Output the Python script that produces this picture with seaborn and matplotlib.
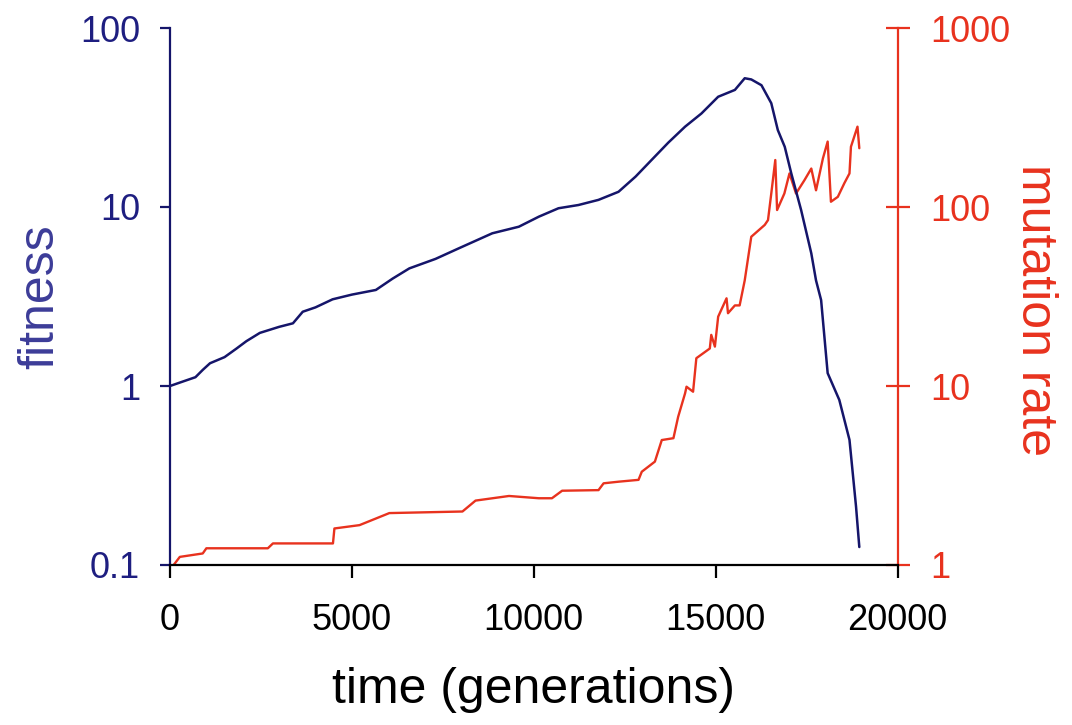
import matplotlib
matplotlib.use("Agg")
import matplotlib.pyplot as plt
import seaborn as sns
import pandas as pd
from matplotlib.ticker import FixedLocator, FixedFormatter, NullLocator

# ---- data ----
fit_time = [0, 300, 700, 900, 1100, 1500, 1830, 2100, 2470, 3000, 3380, 3650, 4000,
            4470, 5000, 5660, 6120, 6580, 7300, 7950, 8860, 9590, 10140, 10680, 11230,
            11780, 12330, 12800, 13240, 13700, 14160, 14610, 15070, 15530, 15800, 15980,
            16260, 16530, 16710, 16900, 17080, 17350, 17630, 17760, 17900, 18080, 18400,
            18680, 18860, 18950]
fitness = [1.00, 1.05, 1.12, 1.23, 1.34, 1.45, 1.62, 1.78, 1.98, 2.14, 2.24, 2.60, 2.75,
           3.05, 3.24, 3.44, 3.98, 4.54, 5.13, 5.89, 7.13, 7.76, 8.83, 9.84, 10.26,
           10.96, 12.16, 14.79, 18.32, 22.9, 28.1, 33.3, 41.3, 45.1, 52.4, 51.6,
           47.9, 38.0, 26.9, 21.7, 15.4, 9.62, 5.51, 3.89, 3.02, 1.18, 0.836,
           0.50, 0.212, 0.126]

mut_time = [100, 270, 900, 1000, 2690, 2830, 4480, 4520, 5210, 6030, 8040, 8400, 9320,
            10140, 10500, 10780, 11780, 11920, 12330, 12880, 12970, 13330, 13520, 13840,
            13970, 14160, 14200, 14380, 14470, 14840, 14880, 14980, 15070, 15300, 15340,
            15530, 15660, 15800, 15980, 16350, 16440, 16530, 16640, 16690, 16890, 17030,
            17210, 17440, 17630, 17760, 17950, 18080, 18170, 18360, 18540, 18680, 18720,
            18900, 18950]
mutation_rate = [1.0, 1.11, 1.16, 1.24, 1.24, 1.32, 1.32, 1.60, 1.67, 1.95, 1.99, 2.29, 2.43,
                 2.36, 2.36, 2.60, 2.62, 2.86, 2.92, 2.99, 3.32, 3.78, 4.99, 5.11,
                 6.73, 9.10, 9.91, 9.29, 14.3, 16.2, 19.3, 16.6, 24.4, 30.9, 25.5,
                 28.2, 28.2, 38.9, 68.2, 79.4, 84.5, 119, 183, 96.2, 119, 154,
                 119, 141, 164, 124, 187, 232, 107, 114, 136, 154, 217,
                 281, 213]

x_ticks = [0, 5000, 10000, 15000, 20000]
x_ticklabels = ["0", "5000", "10000", "15000", "20000"]
fit_ticks = [0.1, 1, 10, 100]
fit_ticklabels = ["0.1", "1", "10", "100"]
mut_ticks = [1, 10, 100, 1000]
mut_ticklabels = ["1", "10", "100", "1000"]

# ---- style ----
sns.set_style("white")
plt.rcParams["font.family"] = ["Liberation Sans", "DejaVu Sans"]

NAVY = "#15156a"
NAVY_TXT = "#1e1e80"
LABEL_BLUE = "#3c3c98"
RED = "#e8321e"

fig = plt.figure(figsize=(10.72, 7.25), dpi=100)
ax = fig.add_axes([170 / 1072, 1 - 565 / 725, (897.5 - 170) / 1072, (565 - 28) / 725])
ax2 = ax.twinx()

df_fit = pd.DataFrame({"time": fit_time, "fitness": fitness})
df_mut = pd.DataFrame({"time": mut_time, "mutation": mutation_rate})

sns.lineplot(data=df_mut, x="time", y="mutation", ax=ax2, color=RED, lw=1.7,
             sort=False, estimator=None)
sns.lineplot(data=df_fit, x="time", y="fitness", ax=ax, color=NAVY, lw=1.8,
             sort=False, estimator=None)

ax.set_zorder(ax2.get_zorder() + 1)
ax.patch.set_visible(False)

for a in (ax, ax2):
    a.set_xlim(0, 20000)
ax.set_yscale("log")
ax2.set_yscale("log")
ax.set_ylim(0.1, 100)
ax2.set_ylim(1, 1000)

ax.xaxis.set_major_locator(FixedLocator(x_ticks))
ax.xaxis.set_major_formatter(FixedFormatter(x_ticklabels))
ax.yaxis.set_major_locator(FixedLocator(fit_ticks))
ax.yaxis.set_major_formatter(FixedFormatter(fit_ticklabels))
ax.yaxis.set_minor_locator(NullLocator())
ax2.yaxis.set_major_locator(FixedLocator(mut_ticks))
ax2.yaxis.set_major_formatter(FixedFormatter(mut_ticklabels))
ax2.yaxis.set_minor_locator(NullLocator())

# spines
for a in (ax, ax2):
    a.spines["top"].set_visible(False)
    for s in a.spines.values():
        s.set_linewidth(1.6)
ax.spines["right"].set_visible(False)
ax.spines["left"].set_color(NAVY)
ax.spines["bottom"].set_color("black")
ax2.spines["left"].set_visible(False)
ax2.spines["bottom"].set_visible(False)
ax2.spines["right"].set_color(RED)

ax.tick_params(axis="x", direction="out", length=9.5, width=1.6, color="black",
               labelsize=26, labelcolor="black", pad=18, bottom=True)
ax.tick_params(axis="y", direction="out", length=7.5, width=1.6, color=NAVY,
               labelsize=26, labelcolor=NAVY_TXT, pad=14, left=True)
ax2.tick_params(axis="y", direction="inout", length=17, width=1.6, color=RED,
                labelsize=26, labelcolor=RED, pad=15, right=True)

ax.set_xlabel("time (generations)", fontsize=36, color="black", va="center")
ax.xaxis.set_label_coords(0.5, -0.233)
ax.set_ylabel("fitness", fontsize=36, color=LABEL_BLUE, va="center")
ax.yaxis.set_label_coords(-0.179, 0.5)
ax2.set_ylabel("mutation rate", fontsize=36, color=RED, rotation=270, va="center")
ax2.yaxis.set_label_coords(1.189, 0.475)

fig.savefig("out.png", dpi=100)
